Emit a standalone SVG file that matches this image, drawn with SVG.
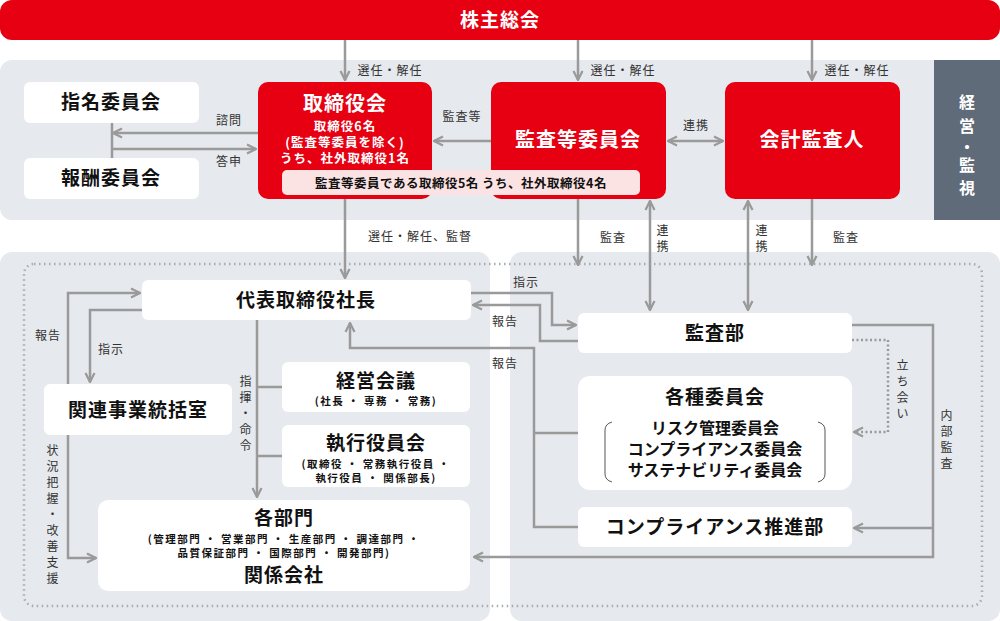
<svg xmlns="http://www.w3.org/2000/svg" width="1000" height="621" viewBox="0 0 1000 621">
<defs>
<marker id="ah" viewBox="0 0 10 10" refX="9" refY="5" markerWidth="4.5" markerHeight="4.5" orient="auto-start-reverse"><path d="M1,1 L9,5 L1,9" fill="none" stroke="#9a9a9a" stroke-width="2"/></marker>
</defs>
<style>
text{font-family:"Noto Sans CJK JP","Noto Sans",sans-serif;font-weight:700;text-anchor:middle}
.w{fill:#fff}.r{fill:#e60012}
.l{fill:none;stroke:#9a9a9a;stroke-width:2.5}
.lb{font-size:12px;font-weight:400;fill:#333;letter-spacing:1px}
.t{font-size:19px;fill:#111;letter-spacing:1px}
.s{font-size:10.5px;fill:#111;letter-spacing:1.5px}
.rt{fill:#fff}
.v{font-size:16px;fill:#fff}
</style>
<rect x="0" y="60" width="1000" height="160" rx="12" fill="#e6e9ed"/>
<rect x="934" y="60" width="66" height="160" fill="#5f6b78"/>
<rect x="0" y="252" width="490" height="369" rx="12" fill="#e6e9ed"/>
<rect x="510" y="252" width="490" height="369" rx="12" fill="#e6e9ed"/>
<rect x="24" y="264" width="958" height="342" rx="10" fill="none" stroke="#a8adb3" stroke-width="2.5" stroke-dasharray="1.5 3.5"/>
<text x="967" y="108" class="v">経</text>
<text x="967" y="132" class="v">営</text>
<text x="967" y="153" class="v">・</text>
<text x="967" y="171" class="v">監</text>
<text x="967" y="194" class="v">視</text>
<g id="connectors">
<path class="l" d="M345,40V80" marker-end="url(#ah)"/>
<path class="l" d="M578,40V80" marker-end="url(#ah)"/>
<path class="l" d="M812,40V80" marker-end="url(#ah)"/>
<path class="l" d="M258,133H113" marker-end="url(#ah)"/>
<path class="l" d="M112,123V158"/>
<path class="l" d="M112,149H256" marker-end="url(#ah)"/>
<path class="l" d="M491,141H434" marker-end="url(#ah)"/>
<path class="l" d="M668,141H723" marker-start="url(#ah)" marker-end="url(#ah)"/>
<path class="l" d="M345,199V278" marker-end="url(#ah)"/>
<path class="l" d="M578,199V265" marker-end="url(#ah)"/>
<path class="l" d="M812,199V265" marker-end="url(#ah)"/>
<path class="l" d="M650,201V310" marker-start="url(#ah)" marker-end="url(#ah)"/>
<path class="l" d="M748,201V310" marker-start="url(#ah)" marker-end="url(#ah)"/>
<path class="l" d="M471,293H552V325H576" marker-end="url(#ah)"/>
<path class="l" d="M578,341H540V305H473" marker-end="url(#ah)"/>
<path class="l" d="M578,527H534V348H350V323" marker-end="url(#ah)"/>
<path class="l" d="M578,433H534"/>
<path class="l" d="M852,325H933V557H474" marker-end="url(#ah)"/>
<path class="l" d="M933,528H854" marker-end="url(#ah)"/>
<path class="l" d="M852,340H888V432H854" stroke-dasharray="2 2.5" marker-end="url(#ah)"/>
<path class="l" d="M68,384V293H140" marker-end="url(#ah)"/>
<path class="l" d="M142,310H90V382" marker-end="url(#ah)"/>
<path class="l" d="M68,435V558H96" marker-end="url(#ah)"/>
<path class="l" d="M257,320V497" marker-end="url(#ah)"/>
<path class="l" d="M257,387H282M257,456H282"/>
</g>
<g class="lb">
<text x="390" y="75" class="lb">選任・解任</text>
<text x="623" y="75" class="lb">選任・解任</text>
<text x="857" y="75" class="lb">選任・解任</text>
<text x="229" y="125" class="lb">諮問</text>
<text x="229" y="166" class="lb">答申</text>
<text x="462" y="121" class="lb">監査等</text>
<text x="696" y="130" class="lb">連携</text>
<text x="420" y="241" class="lb">選任・解任、監督</text>
<text x="613" y="242" class="lb">監査</text>
<text x="663" y="235" class="lb">連</text><text x="663" y="251" class="lb">携</text>
<text x="762" y="235" class="lb">連</text><text x="762" y="251" class="lb">携</text>
<text x="846" y="242" class="lb">監査</text>
<text x="526" y="287" class="lb">指示</text>
<text x="505" y="326" class="lb">報告</text>
<text x="505" y="368" class="lb">報告</text>
<text x="48" y="340" class="lb">報告</text>
<text x="111" y="354" class="lb">指示</text>
<text x="246" y="386" class="lb">指</text><text x="246" y="402" class="lb">揮</text><text x="246" y="418" class="lb">・</text><text x="246" y="434" class="lb">命</text><text x="246" y="450" class="lb">令</text>
<text x="53" y="455" class="lb">状</text><text x="53" y="471" class="lb">況</text><text x="53" y="487" class="lb">把</text><text x="53" y="503" class="lb">握</text><text x="53" y="519" class="lb">・</text><text x="53" y="535" class="lb">改</text><text x="53" y="551" class="lb">善</text><text x="53" y="567" class="lb">支</text><text x="53" y="583" class="lb">援</text>
<text x="903" y="370" class="lb">立</text><text x="903" y="386" class="lb">ち</text><text x="903" y="402" class="lb">会</text><text x="903" y="418" class="lb">い</text>
<text x="947" y="420" class="lb">内</text><text x="947" y="436" class="lb">部</text><text x="947" y="452" class="lb">監</text><text x="947" y="468" class="lb">査</text>
</g>
<g id="kabunushi"><rect x="0" y="0" width="1000" height="40" rx="12" class="r"/><text x="500" y="27" class="rt" style="font-size:19px;letter-spacing:1px">株主総会</text></g>
<g id="shimei"><rect x="24" y="82" width="175" height="41" rx="6" class="w"/><text x="111" y="109" class="t">指名委員会</text></g>
<g id="hoshu"><rect x="24" y="158" width="175" height="41" rx="6" class="w"/><text x="111" y="185" class="t">報酬委員会</text></g>
<g id="torishimari"><rect x="258" y="82" width="174" height="117" rx="10" class="r"/>
<text x="345" y="111" class="rt" style="font-size:20px;letter-spacing:1px">取締役会</text>
<text x="345" y="131" class="rt" style="font-size:12.5px;letter-spacing:1px">取締役6名</text>
<text x="345" y="147" class="rt" style="font-size:12.5px;letter-spacing:1px">(監査等委員を除く)</text>
<text x="345" y="163" class="rt" style="font-size:12.5px;letter-spacing:1px">うち、社外取締役1名</text></g>
<g id="kansa-iinkai"><rect x="491" y="82" width="175" height="117" rx="10" class="r"/><text x="578" y="147" class="rt" style="font-size:20px;letter-spacing:1px">監査等委員会</text></g>
<g id="kaikei"><rect x="725" y="82" width="175" height="117" rx="10" class="r"/><text x="812" y="147" class="rt" style="font-size:20px;letter-spacing:1px">会計監査人</text></g>
<g id="strip"><rect x="282" y="170" width="358" height="25" rx="5" fill="#fbe3e4"/><text x="461" y="188" style="font-size:12.5px;fill:#111;letter-spacing:0.5px">監査等委員である取締役5名 うち、社外取締役4名</text></g>
<g id="shacho"><rect x="142" y="280" width="329" height="40" rx="6" class="w"/><text x="306" y="307" class="t">代表取締役社長</text></g>
<g id="kanren"><rect x="44" y="384" width="188" height="51" rx="6" class="w"/><text x="138" y="417" class="t">関連事業統括室</text></g>
<g id="keiei"><rect x="282" y="362" width="188" height="50" rx="6" class="w"/><text x="376" y="388" class="t">経営会議</text><text x="376" y="405" class="s">(社長 ・ 専務 ・ 常務)</text></g>
<g id="shikko"><rect x="282" y="425" width="188" height="62" rx="6" class="w"/><text x="376" y="450" class="t">執行役員会</text><text x="376" y="468" class="s">(取締役 ・ 常務執行役員 ・</text><text x="376" y="482" class="s">執行役員 ・ 関係部長)</text></g>
<g id="kakubumon"><rect x="98" y="500" width="372" height="91" rx="10" class="w"/><text x="284" y="525" class="t">各部門</text><text x="284" y="543" class="s">(管理部門 ・ 営業部門 ・ 生産部門 ・ 調達部門 ・</text><text x="284" y="557" class="s">品質保証部門 ・ 国際部門 ・ 開発部門)</text><text x="284" y="582" class="t">関係会社</text></g>
<g id="kansabu"><rect x="578" y="313" width="274" height="40" rx="6" class="w"/><text x="715" y="340" class="t">監査部</text></g>
<g id="kakushu"><rect x="578" y="376" width="274" height="114" rx="12" class="w"/><text x="715" y="404" class="t">各種委員会</text>
<path d="M612,422Q605,424 605,430V474Q605,480 612,482M818,422Q825,424 825,430V474Q825,480 818,482" fill="none" stroke="#555" stroke-width="1"/>
<text x="715" y="434" style="font-size:16px;fill:#111">リスク管理委員会</text><text x="715" y="455" style="font-size:16px;fill:#111">コンプライアンス委員会</text><text x="715" y="476" style="font-size:16px;fill:#111">サステナビリティ委員会</text></g>
<g id="compliance"><rect x="578" y="507" width="274" height="40" rx="6" class="w"/><text x="715" y="534" class="t">コンプライアンス推進部</text></g>
</svg>
